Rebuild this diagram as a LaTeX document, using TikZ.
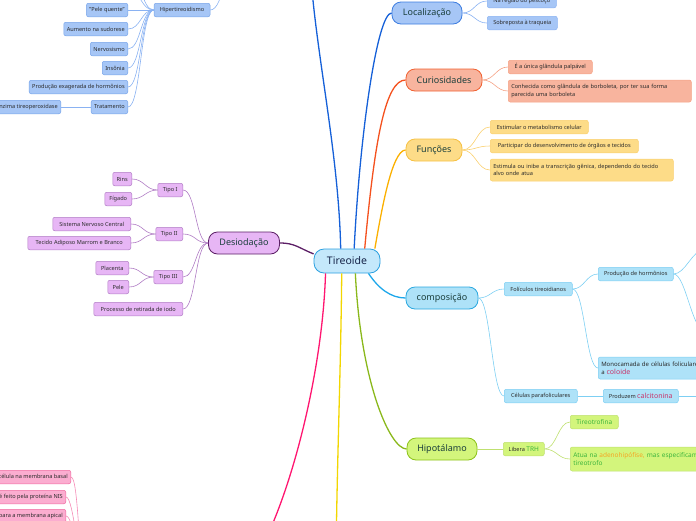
\documentclass[tikz,border=0pt]{standalone}
\usepackage{fontspec}
\setmainfont{Noto Sans}
\usetikzlibrary{positioning}
\definecolor{Ink}{HTML}{1B3F3C}
\definecolor{Navy}{HTML}{18264A}
\definecolor{Leaf}{HTML}{2B2B2B}
\definecolor{RootFill}{HTML}{C4E8FB}
\definecolor{RootLine}{HTML}{2AA0E0}
\definecolor{LocFill}{HTML}{A6C6F6}
\definecolor{LocLine}{HTML}{3D7DE0}
\definecolor{LocSoft}{HTML}{8AB2F2}
\definecolor{LocMain}{HTML}{1560D8}
\definecolor{CurFill}{HTML}{F8B49E}
\definecolor{CurLine}{HTML}{F06030}
\definecolor{CurSoft}{HTML}{F5A285}
\definecolor{CurMain}{HTML}{F4511E}
\definecolor{FunFill}{HTML}{FDDC88}
\definecolor{FunLine}{HTML}{F6C042}
\definecolor{FunSoft}{HTML}{FAD06E}
\definecolor{FunMain}{HTML}{FBB000}
\definecolor{CompFill}{HTML}{AEE2F8}
\definecolor{CompLine}{HTML}{2AA8E0}
\definecolor{CompSoft}{HTML}{7DCFF3}
\definecolor{CompMain}{HTML}{1EA7EA}
\definecolor{HipoFill}{HTML}{D3F57C}
\definecolor{HipoLine}{HTML}{8CC21A}
\definecolor{HipoSoft}{HTML}{BFE070}
\definecolor{HipoMain}{HTML}{8AB81B}
\definecolor{DesFill}{HTML}{E7B6F5}
\definecolor{DesLine}{HTML}{5C1F66}
\definecolor{DesSoft}{HTML}{B07CC4}
\definecolor{PinkFill}{HTML}{FBADD0}
\definecolor{PinkLine}{HTML}{F06AA0}
\definecolor{PinkSoft}{HTML}{F58AB5}
\definecolor{PinkMain}{HTML}{FF1670}
\definecolor{YellowMain}{HTML}{F2D600}
\definecolor{Crim}{HTML}{C8336A}
\definecolor{Grass}{HTML}{3DB53D}
\definecolor{Orng}{HTML}{F5A623}
\tikzset{root/.style ={
        fill=RootFill,
        draw=RootLine,
        line width=0.8pt,
        rounded corners=10pt,
        minimum width=66pt,
        minimum height=24pt,
        text=Navy,
        font=\fontsize{10.5}{12}\selectfont\bfseries,
    },
    topic/.style={
        line width=0.8pt,
        rounded corners=9pt,
        minimum height=22pt,
        text=Ink,
        font=\fontsize{9}{11}\selectfont,
    },
    leaf/.style={
        line width=0.5pt,
        rounded corners=2pt,
        minimum height=13.5pt,
        inner xsep=3pt,
        inner ysep=1.5pt,
        text=Leaf,
        font=\fontsize{5.6}{7.5}\selectfont,
    },
    wide/.style={
        align=left,
        minimum height=22pt,
    },
    locN/.style={fill=LocFill, draw=LocLine},
    locL/.style={fill=LocFill, draw=LocSoft},
    curN/.style={fill=CurFill, draw=CurLine},
    curL/.style={fill=CurFill, draw=CurSoft},
    funN/.style={fill=FunFill, draw=FunLine},
    funL/.style={fill=FunFill, draw=FunSoft},
    compN/.style={fill=CompFill, draw=CompLine},
    compL/.style={fill=CompFill, draw=CompSoft},
    hipoN/.style={fill=HipoFill, draw=HipoLine},
    hipoL/.style={fill=HipoFill, draw=HipoSoft},
    desN/.style={fill=DesFill, draw=DesLine},
    desL/.style={fill=DesFill, draw=DesSoft},
    pinkL/.style={fill=PinkFill, draw=PinkLine},
    trunk/.style ={
        draw,
        line width=1.3pt,
    },
    twig/.style ={
        draw,
        line width=0.6pt,
    },
    lk/.style={to path={.. controls +(-#1,0) and +(#1,0) .. (\tikztotarget)}},
    lk/.default=12,
    rk/.style={to path={.. controls +(#1,0) and +(-#1,0) .. (\tikztotarget)}},
    rk/.default=12}

\begin{document}
\begin{tikzpicture}[x=1pt,y=-1pt]
	\useasboundingbox (0,0) rectangle (696,520);
	\clip (0,0) rectangle (696,520);

	% centre and main topics
	\node[root] (tir) at (347,261) {Tireoide};
	\node[topic, locN, minimum width=70pt] (loc) at (427,13) {Localização};
	\node[topic, curN, minimum width=76pt] (cur) at (444,80) {Curiosidades};
	\node[topic, funN, minimum width=56pt] (fun) at (434,150) {Funções};
	\node[topic, compN, minimum width=72pt] (comp) at (442,298) {composição};
	\node[topic, hipoN, minimum width=70pt] (hipo) at (442,449) {Hipotálamo};
	\node[topic, desN, minimum width=71pt] (des) at (244,243) {Desiodação};

	% branches leaving the picture
	\coordinate (dnc) at (310,-40);
	\coordinate (ylw) at (336,560);
	\coordinate (pnk) at (255,560);

	\path[trunk, draw=LocMain] (tir.117) .. controls +(-2,-100) and +(3,80) .. (dnc);
	\path[trunk, draw=LocMain] (tir.60) .. controls +(6,-119) and +(-14,0) .. (loc.west);
	\path[trunk, draw=CurMain] (tir.35) .. controls +(10,-110) and +(-20,0) .. (cur.west);
	\path[trunk, draw=FunMain] (tir.24) .. controls +(6,-34) and +(-14,0) .. (fun.west);
	\path[trunk, draw=CompMain] (tir.330) .. controls +(10,15) and +(-15,0) .. (comp.west);
	\path[trunk, draw=HipoMain] (tir.304) .. controls +(5,107) and +(-17,0) .. (hipo.west);
	\path[trunk, draw=YellowMain] (tir.247) .. controls +(-1,100) and +(1,-100) .. (ylw);
	\path[trunk, draw=PinkMain] (tir.210) .. controls +(-3,100) and +(35,-60) .. (pnk);
	\path[trunk, draw=DesLine] (tir.168) .. controls +(-15,-6) and +(15,0) .. (des.east);

	% Localizacao
	\node[leaf, locL, anchor=west, minimum width=69pt] (pesc) at (487,1) {Na região do pescoço};
	\node[leaf, locL, anchor=west, minimum width=70pt] (traq) at (487,23) {Sobreposta à traqueia};
	\path[twig, draw=LocSoft] (loc.east) to[rk] (pesc.west);
	\path[twig, draw=LocSoft] (loc.east) to[rk] (traq.west);

	% Curiosidades
	\node[leaf, curL, anchor=west, minimum width=84pt] (palp) at (508,67) {É a única glândula palpável};
	\node[leaf, curL, wide, anchor=west, text width=177pt] (borb) at (508,91)
		{Conhecida como glândula de borboleta, por ter sua forma\\parecida uma borboleta};
	\path[twig, draw=CurSoft] (cur.east) to[rk] (palp.west);
	\path[twig, draw=CurSoft] (cur.east) to[rk] (borb.west);

	% Funcoes
	\node[leaf, funL, anchor=west, minimum width=98pt] (meta) at (490,127) {Estimular o metabolismo celular};
	\node[leaf, funL, anchor=west, minimum width=148pt] (dese) at (490,146) {Participar do desenvolvimento de órgãos e tecidos};
	\node[leaf, funL, wide, anchor=west, text width=177pt] (tran) at (490,170)
		{Estimula ou inibe a transcrição gênica, dependendo do tecido\\alvo onde atua};
	\path[twig, draw=FunSoft] (fun.east) to[rk=13] (meta.west);
	\path[twig, draw=FunSoft] (fun.east) to[rk=13] (dese.west);
	\path[twig, draw=FunSoft] (fun.east) to[rk=13] (tran.west);

	% composicao
	\node[leaf, compL, anchor=west, minimum width=68pt] (foli) at (504,289) {Folículos tireoidianos};
	\node[leaf, compL, anchor=west, minimum width=75pt] (horm) at (598,274) {Produção de hormônios};
	\node[leaf, compL, wide, anchor=west, text width=124pt, font=\fontsize{6}{8}\selectfont] (mono) at (598,368)
		{Monocamada de células foliculares que\\a {\fontsize{7}{8}\selectfont\textcolor{Crim}{coloide}}};
	\node[leaf, compL, anchor=west, minimum width=73pt] (para) at (504,396) {Células parafoliculares};
	\node[leaf, compL, anchor=west, minimum width=75pt] (calc) at (603,396)
		{Produzem {\fontsize{7}{8}\selectfont\textcolor{Crim}{calcitonina}}};
	\coordinate (ph1) at (704,250);
	\coordinate (ph2) at (704,330);
	\coordinate (ca2) at (704,396);
	\path[twig, draw=CompSoft] (comp.east) to[rk] (foli.west);
	\path[twig, draw=CompSoft] (comp.east) to[rk] (para.west);
	\path[twig, draw=CompSoft] (foli.east) to[rk] (horm.west);
	\path[twig, draw=CompSoft] (foli.east) to[rk] (mono.west);
	\path[twig, draw=CompSoft] (para.east) -- (calc.west);
	\path[twig, draw=CompSoft] (horm.east) to[rk] (ph1);
	\path[twig, draw=CompSoft] (horm.east) to[rk] (ph2);
	\path[twig, draw=CompSoft] (calc.east) -- (ca2);

	% Hipotalamo
	\node[leaf, hipoL, anchor=west, minimum width=41pt] (trh) at (503,449)
		{Libera {\fontsize{6.5}{8}\selectfont\textcolor{Grass}{TRH}}};
	\node[leaf, hipoL, anchor=west, minimum width=48pt, text=Grass, font=\fontsize{6.5}{8}\selectfont] (tsh) at (570,422) {Tireotrofina};
	\node[leaf, hipoL, wide, anchor=west, text width=200pt, minimum height=24pt, text=Grass, font=\fontsize{6.5}{8.5}\selectfont] (adeno) at (570,459)
		{Atua na \textcolor{Orng}{adenohipófise,} mas especificamente\\tireotrofo};
	\path[twig, draw=HipoSoft] (hipo.east) -- (trh.west);
	\path[twig, draw=HipoSoft] (trh.east) to[rk] (tsh.west);
	\path[twig, draw=HipoSoft] (trh.east) to[rk] (adeno.west);

	% Desiodacao
	\node[leaf, desL, anchor=east, minimum width=25pt] (t1) at (183,190) {Tipo I};
	\node[leaf, desL, anchor=east, minimum width=27pt] (t2) at (183,234) {Tipo II};
	\node[leaf, desL, anchor=east, minimum width=29pt] (t3) at (183,277) {Tipo III};
	\node[leaf, desL, anchor=east, minimum width=89pt] (iodo) at (183,309) {Processo de retirada de iodo};
	\node[leaf, desL, anchor=east, minimum width=19pt] (rins) at (132,179) {Rins};
	\node[leaf, desL, anchor=east, minimum width=27pt] (figa) at (132,199) {Fígado};
	\node[leaf, desL, anchor=east, minimum width=78pt] (snc) at (131,224) {Sistema Nervoso Central};
	\node[leaf, desL, anchor=east, minimum width=103pt] (adip) at (131,243) {Tecido Adiposo Marrom e Branco};
	\node[leaf, desL, anchor=east, minimum width=33pt] (plac) at (129,268) {Placenta};
	\node[leaf, desL, anchor=east, minimum width=21pt] (pele) at (129,287) {Pele};
	\foreach \kid in {t1,t2,t3,iodo}
		\path[twig, draw=DesSoft] (des.west) to[lk=13] (\kid.east);
	\path[twig, draw=DesSoft] (t1.west) to[lk] (rins.east);
	\path[twig, draw=DesSoft] (t1.west) to[lk] (figa.east);
	\path[twig, draw=DesSoft] (t2.west) to[lk] (snc.east);
	\path[twig, draw=DesSoft] (t2.west) to[lk] (adip.east);
	\path[twig, draw=DesSoft] (t3.west) to[lk] (plac.east);
	\path[twig, draw=DesSoft] (t3.west) to[lk] (pele.east);

	% Hipertireoidismo
	\node[leaf, locL, draw=LocLine!70, minimum width=56pt] (hiper) at (182,10) {Hipertireoidismo};
	\node[leaf, locL, draw=LocLine!70, anchor=east] (quen) at (128,10) {"Pele quente"};
	\node[leaf, locL, draw=LocLine!70, anchor=east] (sudo) at (128,29) {Aumento na sudorese};
	\node[leaf, locL, draw=LocLine!70, anchor=east] (nerv) at (128,49) {Nervosismo};
	\node[leaf, locL, draw=LocLine!70, anchor=east] (inso) at (128,68) {Insônia};
	\node[leaf, locL, draw=LocLine!70, anchor=east] (exag) at (128,87) {Produção exagerada de hormônios};
	\node[leaf, locL, draw=LocLine!70, anchor=east] (trat) at (128,107) {Tratamento};
	\node[leaf, locL, draw=LocLine!70, anchor=east] (tpo) at (61,107) {Inibição da enzima tireoperoxidase};
	\coordinate (hpar) at (240,-45);
	\coordinate (hup1) at (128,-10);
	\coordinate (hup2) at (128,-29);
	\path[twig, draw=LocSoft] (hiper.east) to[rk=14] (hpar);
	\foreach \kid in {quen,sudo,nerv,inso,exag,trat}
		\path[twig, draw=LocSoft] (hiper.west) to[lk=13] (\kid.east);
	\path[twig, draw=LocSoft] (hiper.west) to[lk=13] (hup1);
	\path[twig, draw=LocSoft] (hiper.west) to[lk=13] (hup2);
	\path[twig, draw=LocSoft] (trat.west) -- (tpo.east);

	% pink group below
	\node[leaf, pinkL, anchor=east] (basal) at (71,477) {Captação de iodo pela célula na membrana basal};
	\node[leaf, pinkL, anchor=east] (nis) at (66,497) {Transporte é feito pela proteína NIS};
	\node[leaf, pinkL, anchor=east] (apic) at (66,516) {Iodo passa para a membrana apical};
	\coordinate (ppar) at (86,570);
	\foreach \kid in {basal,nis,apic}
		\path[twig, draw=PinkSoft] (ppar) to[lk=8] (\kid.east);
\end{tikzpicture}
\end{document}
